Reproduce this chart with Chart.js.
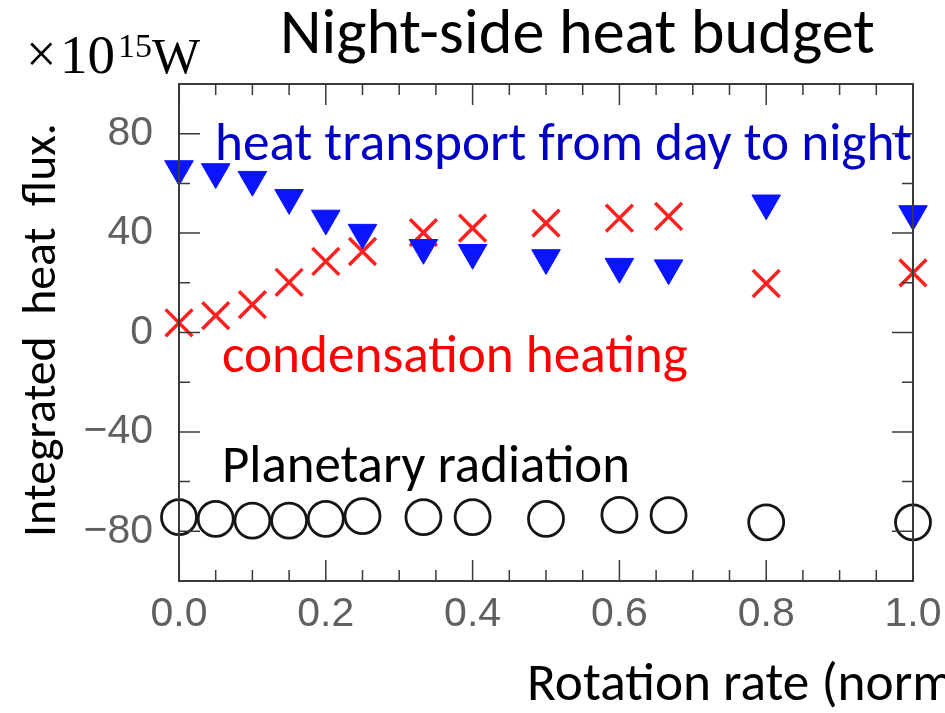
<!DOCTYPE html>
<html>
<head>
<meta charset="utf-8">
<title>Night-side heat budget</title>
<script src="https://cdn.jsdelivr.net/npm/chart.js@4/dist/chart.umd.min.js"></script>
<style>
  body { margin: 0; background: #fff; }
  canvas { display: block; }
</style>
</head>
<body>
<canvas id="budget" width="945" height="713"></canvas>
<script>
// rotation rate (normalized) of each run
const rotation = [0, 0.05, 0.1, 0.15, 0.2, 0.25, 0.333, 0.4, 0.5, 0.6, 0.667, 0.8, 1.0];
// integrated heat flux, x10^15 W
const heatTransport = [65.8, 64.6, 61.5, 54.2, 45.9, 40.2, 34.1, 32.1, 30.0, 26.5, 25.9, 52.0, 47.7];
const condensation = [3.9, 6.8, 11.2, 20.2, 28.6, 32.6, 40.2, 42.0, 44.0, 46.0, 46.7, 19.7, 24.0];
const radiation = [-74.3, -75.0, -75.7, -75.7, -75.0, -73.9, -74.3, -74.3, -75.0, -73.4, -73.5, -76.4, -76.4];

const xTicks = [0, 0.2, 0.4, 0.6, 0.8, 1.0];
const xMinor = [0.05, 0.1, 0.15, 0.25, 0.3, 0.35, 0.45, 0.5, 0.55, 0.65, 0.7, 0.75, 0.85, 0.9, 0.95];
const yTicks = [-80, -40, 0, 40, 80];
const yMinor = [-60, -20, 20, 60];

const sans = '"Carlito", "Lato", sans-serif';
const serif = '"Liberation Serif", serif';

function points(ys) {
  return rotation.map((x, i) => ({ x: x, y: ys[i] }));
}

// font size that makes text span the given width
function fitSize(ctx, text, family, width) {
  ctx.font = '100px ' + family;
  return 100 * width / ctx.measureText(text).width;
}

// keep the plot box where it is, whatever the labels overhang
function noPadding(scale) {
  scale.paddingLeft = 0;
  scale.paddingRight = 0;
  scale.paddingTop = 0;
  scale.paddingBottom = 0;
}

const frameAndText = {
  id: 'frameAndText',
  afterDraw(chart) {
    const ctx = chart.ctx;
    const a = chart.chartArea;
    const xs = chart.scales.x;
    const ys = chart.scales.y;
    ctx.save();

    // frame
    ctx.strokeStyle = '#3a3a3a';
    ctx.lineWidth = 2;
    ctx.strokeRect(a.left, a.top, a.right - a.left, a.bottom - a.top);

    // inward ticks on all four sides
    ctx.lineWidth = 1.5;
    ctx.beginPath();
    const xt = (v, len) => {
      const p = xs.getPixelForValue(v);
      ctx.moveTo(p, a.bottom); ctx.lineTo(p, a.bottom - len);
      ctx.moveTo(p, a.top); ctx.lineTo(p, a.top + len);
    };
    const yt = (v, len) => {
      const p = ys.getPixelForValue(v);
      ctx.moveTo(a.left, p); ctx.lineTo(a.left + len, p);
      ctx.moveTo(a.right, p); ctx.lineTo(a.right - len, p);
    };
    xTicks.forEach(v => xt(v, 21));
    xMinor.forEach(v => xt(v, 11));
    yTicks.forEach(v => yt(v, 21));
    yMinor.forEach(v => yt(v, 11));
    ctx.stroke();

    ctx.textAlign = 'left';
    ctx.textBaseline = 'alphabetic';

    // title
    ctx.fillStyle = '#000';
    let s = fitSize(ctx, 'Night-side heat budget', sans, 595);
    ctx.font = s + 'px ' + sans;
    ctx.fillText('Night-side heat budget', 280, 53);

    // unit
    ctx.font = '54px ' + serif;
    ctx.fillText('\u00d7', 26, 72);
    ctx.font = '55px ' + serif;
    ctx.fillText('10', 60, 73);
    ctx.font = '34px ' + serif;
    ctx.fillText('15', 118, 57);
    ctx.font = '51px ' + serif;
    ctx.fillText('W', 152, 73);

    // annotations
    ctx.fillStyle = '#0000c4';
    s = fitSize(ctx, 'heat transport from day to night', sans, 697);
    ctx.font = s + 'px ' + sans;
    ctx.fillText('heat transport from day to night', 215, 160);

    ctx.fillStyle = '#ff0000';
    s = fitSize(ctx, 'condensation heating', sans, 466);
    ctx.font = s + 'px ' + sans;
    ctx.fillText('condensation heating', 222, 372);

    ctx.fillStyle = '#000';
    s = fitSize(ctx, 'Planetary radiation', sans, 408);
    ctx.font = s + 'px ' + sans;
    ctx.fillText('Planetary radiation', 222, 482);

    // axis titles
    const yTitle = 'Integrated  heat  flux.';
    s = fitSize(ctx, yTitle, sans, 414);
    ctx.font = s + 'px ' + sans;
    ctx.save();
    ctx.translate(55, 330);
    ctx.rotate(-Math.PI / 2);
    ctx.textAlign = 'center';
    ctx.fillText(yTitle, 0, 0);
    ctx.restore();

    s = fitSize(ctx, 'Rotation rate (norm', sans, 428);
    ctx.font = s + 'px ' + sans;
    ctx.fillText('Rotation rate (normalized)', 527, 700);

    ctx.restore();
  }
};

new Chart(document.getElementById('budget'), {
  type: 'scatter',
  data: {
    datasets: [
      {
        label: 'Planetary radiation',
        data: points(radiation),
        pointStyle: 'circle',
        pointRadius: 17.5,
        borderColor: '#151515',
        backgroundColor: 'rgba(0,0,0,0)',
        borderWidth: 2.8,
        clip: false
      },
      {
        label: 'heat transport from day to night',
        data: points(heatTransport),
        pointStyle: 'triangle',
        rotation: 180,
        pointRadius: 16.5,
        borderColor: '#0a14ff',
        backgroundColor: '#0a14ff',
        borderWidth: 1,
        clip: false
      },
      {
        label: 'condensation heating',
        data: points(condensation),
        pointStyle: 'crossRot',
        pointRadius: 19,
        borderColor: '#ff2020',
        borderWidth: 3.5,
        clip: false
      }
    ]
  },
  options: {
    responsive: false,
    animation: false,
    layout: { padding: { left: 0, top: 84, right: 32, bottom: 0 } },
    plugins: {
      legend: { display: false },
      tooltip: { enabled: false }
    },
    scales: {
      x: {
        type: 'linear',
        min: 0,
        max: 1,
        afterBuildTicks: scale => { scale.ticks = xTicks.map(v => ({ value: v })); },
        afterFit: scale => { scale.height = 132; noPadding(scale); },
        grid: { display: false, drawTicks: false },
        border: { display: false },
        ticks: {
          padding: 9,
          color: '#606060',
          font: { family: '"Liberation Sans", Arial, sans-serif', size: 41 },
          maxRotation: 0,
          callback: v => v.toFixed(1)
        }
      },
      y: {
        type: 'linear',
        min: -100,
        max: 100,
        afterBuildTicks: scale => { scale.ticks = yTicks.map(v => ({ value: v })); },
        afterFit: scale => { scale.width = 179; noPadding(scale); },
        grid: { display: false, drawTicks: false },
        border: { display: false },
        ticks: {
          padding: 26,
          color: '#606060',
          font: { family: '"Liberation Sans", Arial, sans-serif', size: 41 },
          callback: v => (v < 0 ? '\u2212' + Math.abs(v) : String(v))
        }
      }
    }
  },
  plugins: [frameAndText]
});
</script>
</body>
</html>
